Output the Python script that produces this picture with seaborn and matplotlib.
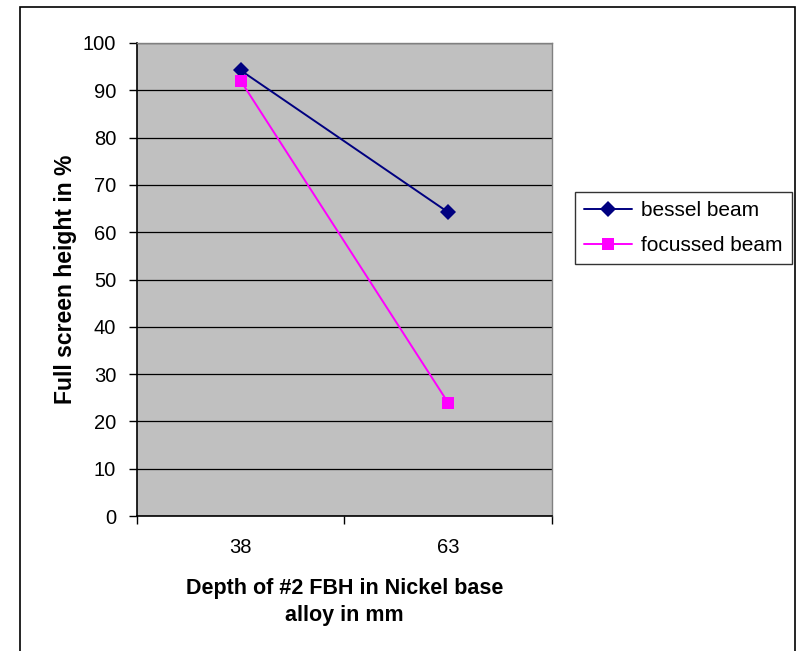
import matplotlib
matplotlib.use("Agg")
import matplotlib.pyplot as plt
from matplotlib.patches import Rectangle
from matplotlib.ticker import FixedLocator, NullFormatter, FixedFormatter
import seaborn as sns
import pandas as pd

# Data
depths = ["38", "63"]
bessel_beam = [94.2, 64.2]
focussed_beam = [92.0, 23.9]
y_ticks = [0, 10, 20, 30, 40, 50, 60, 70, 80, 90, 100]

df = pd.DataFrame({
    "pos": list(range(len(depths))) * 2,
    "value": bessel_beam + focussed_beam,
    "series": ["bessel beam"] * len(depths) + ["focussed beam"] * len(depths),
})

sns.set_theme(style="white")
plt.rcParams["font.family"] = ["Liberation Sans", "DejaVu Sans"]
plt.rcParams["text.color"] = "black"

fig = plt.figure(figsize=(7.96, 6.51), dpi=100)
ax = fig.add_axes([137 / 796, 1 - 516 / 651, (552 - 137) / 796, (516 - 43) / 651])
ax.set_facecolor("#C0C0C0")

# Outer chart border
fig.patches.append(Rectangle((20 / 796, -0.05), (795 - 20) / 796, 1 - 7 / 651 + 0.05,
                             transform=fig.transFigure, fill=False,
                             edgecolor="black", linewidth=1.2, zorder=0))

sns.lineplot(data=df, x="pos", y="value", hue="series", style="series",
             markers={"bessel beam": "D", "focussed beam": "s"},
             dashes=False, palette={"bessel beam": "#000080", "focussed beam": "#FF00FF"},
             markersize=8, linewidth=1.4, markeredgewidth=0, ax=ax, legend=True)

ax.set_xlim(-0.5, len(depths) - 0.5)
ax.set_ylim(0, 100)

# Horizontal gridlines
ax.yaxis.set_major_locator(FixedLocator(y_ticks))
ax.yaxis.grid(True, color="black", linewidth=0.9)
ax.xaxis.grid(False)
ax.set_axisbelow(True)

# Category boundaries as ticks, labels centered on categories
ax.xaxis.set_major_locator(FixedLocator([-0.5 + i for i in range(len(depths) + 1)]))
ax.xaxis.set_major_formatter(NullFormatter())
ax.xaxis.set_minor_locator(FixedLocator(list(range(len(depths)))))
ax.xaxis.set_minor_formatter(FixedFormatter(depths))
ax.tick_params(axis="x", which="major", direction="out", length=6, width=1, color="black", bottom=True)
ax.tick_params(axis="x", which="minor", length=0, labelsize=14.5, pad=16, colors="black")
ax.tick_params(axis="y", direction="out", length=6, width=1, color="black", left=True,
               labelsize=14.5, pad=9, labelcolor="black")

for side in ["left", "bottom"]:
    ax.spines[side].set_color("black")
    ax.spines[side].set_linewidth(1.2)
for side in ["top", "right"]:
    ax.spines[side].set_color("#808080")
    ax.spines[side].set_linewidth(1.0)

ax.set_xlabel("Depth of #2 FBH in Nickel base\nalloy in mm", fontsize=15.5,
              fontweight="bold", labelpad=15, color="black", linespacing=1.35)
ax.set_ylabel("Full screen height in %", fontsize=16.5, fontweight="bold",
              labelpad=4, color="black")

leg = ax.legend(loc="upper left", bbox_to_anchor=(575 / 796, 1 - 192 / 651),
                bbox_transform=fig.transFigure, frameon=True, fancybox=False,
                fontsize=15, handlelength=2.3, handletextpad=0.4,
                borderpad=0.45, labelspacing=0.75, borderaxespad=0)
leg.get_frame().set_edgecolor("black")
leg.get_frame().set_linewidth(1.0)
for t in leg.get_texts():
    t.set_color("black")

fig.savefig("out.png", dpi=100, facecolor="white")
